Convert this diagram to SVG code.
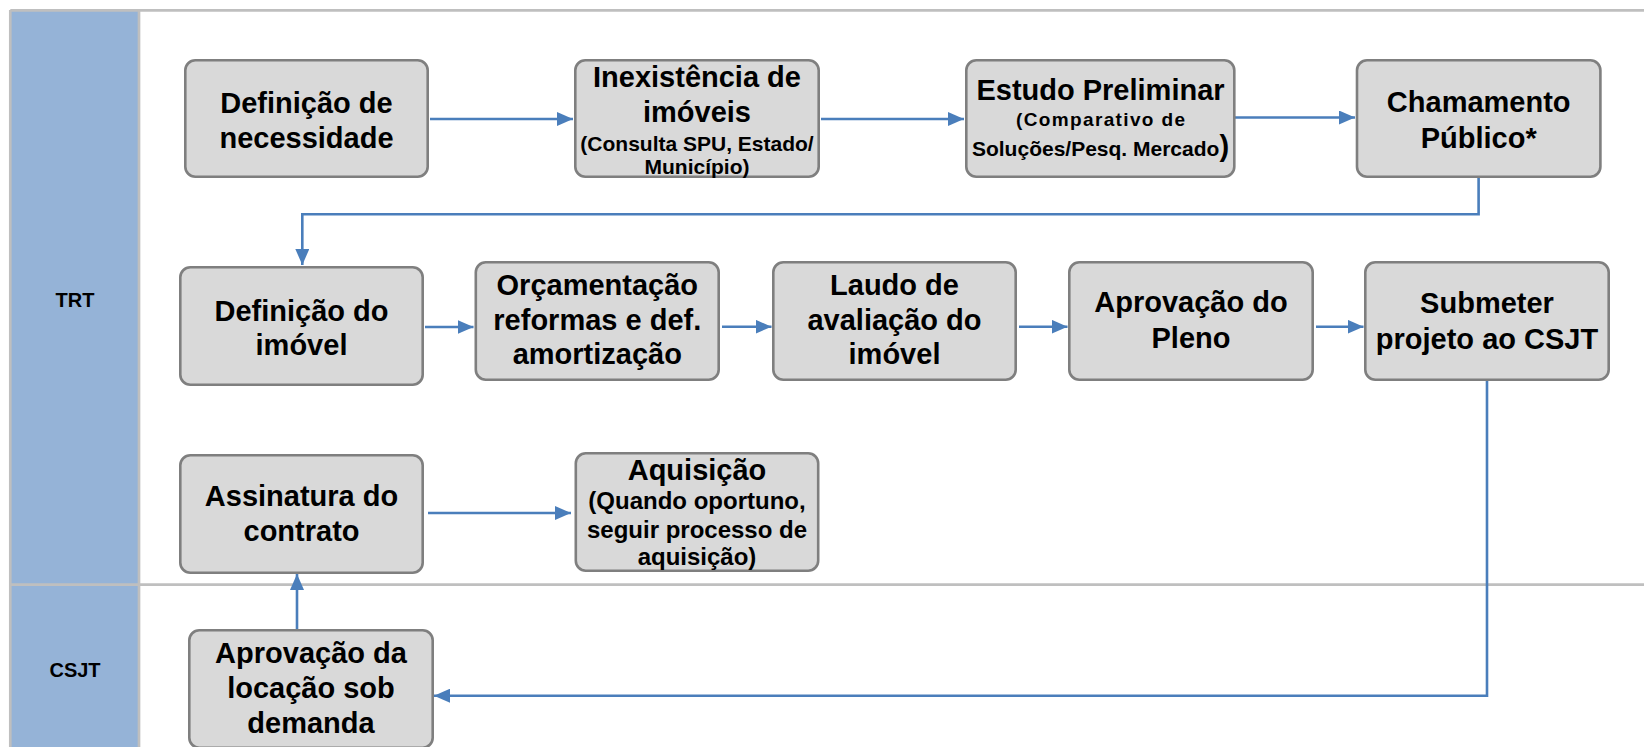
<svg xmlns="http://www.w3.org/2000/svg" width="1644" height="747" viewBox="0 0 1644 747">
<style>
.lane{fill:#95B3D7;}
.lline{stroke:#BFBFBF;stroke-width:2.7;fill:none;}
.box{fill:#D9D9D9;stroke:#7F7F7F;stroke-width:2.6;}
.t{font-family:"Liberation Sans",Arial,sans-serif;font-weight:bold;fill:#000;text-anchor:middle;}
.m{font-size:29px;}
.s{font-size:21px;}
.s2{font-size:24px;}
.lab{font-family:"Liberation Sans",Arial,sans-serif;font-weight:bold;font-size:20px;fill:#000;text-anchor:middle;}
.c{stroke:#4A7EBB;stroke-width:2.6;fill:none;}
</style>
<defs>
<marker id="ah" markerUnits="userSpaceOnUse" markerWidth="16" markerHeight="14" refX="16" refY="7" orient="auto">
<path d="M0,0 L16,7 L0,14 z" fill="#4A7EBB"/>
</marker>
</defs>
<rect width="1644" height="747" fill="#FFFFFF"/>
<g id="lanes">
<rect class="lane" x="10" y="10" width="129" height="740"/>
<line class="lline" x1="10.3" y1="10.3" x2="1644" y2="10.3"/>
<line class="lline" x1="10.3" y1="10" x2="10.3" y2="747"/>
<line class="lline" x1="139" y1="10" x2="139" y2="747"/>
<line class="lline" x1="10" y1="584.7" x2="1644" y2="584.7"/>
<text class="lab" x="75" y="307">TRT</text>
<text class="lab" x="75" y="677">CSJT</text>
</g>
<g id="connectors">
<line class="c" x1="430" y1="119" x2="573" y2="119" marker-end="url(#ah)"/>
<line class="c" x1="821" y1="119" x2="964" y2="119" marker-end="url(#ah)"/>
<line class="c" x1="1213" y1="117.5" x2="1355" y2="117.5" marker-end="url(#ah)"/>
<polyline class="c" points="1478.6,176 1478.6,214.3 302.3,214.3 302.3,265" marker-end="url(#ah)"/>
<line class="c" x1="425" y1="327" x2="473.5" y2="327" marker-end="url(#ah)"/>
<line class="c" x1="722" y1="326.7" x2="771.5" y2="326.7" marker-end="url(#ah)"/>
<line class="c" x1="1019" y1="326.7" x2="1067.5" y2="326.7" marker-end="url(#ah)"/>
<line class="c" x1="1316" y1="326.7" x2="1363.5" y2="326.7" marker-end="url(#ah)"/>
<polyline class="c" points="1487,381 1487,695.7 434,695.7" marker-end="url(#ah)"/>
<line class="c" x1="297" y1="629" x2="297" y2="574" marker-end="url(#ah)"/>
<line class="c" x1="428" y1="513" x2="571" y2="513" marker-end="url(#ah)"/>
</g>
<g id="n1">
<rect class="box" x="185.3" y="60.3" width="242.4" height="116.4" rx="10"/>
<text class="t m" x="306.5" y="113">Definição de</text>
<text class="t m" x="306.5" y="148">necessidade</text>
</g>
<g id="n2">
<rect class="box" x="575.3" y="60.3" width="243.4" height="116.4" rx="10"/>
<text class="t m" x="697" y="87">Inexistência de</text>
<text class="t m" x="697" y="121.5">imóveis</text>
<text class="t s" x="697" y="150.5">(Consulta SPU, Estado/</text>
<text class="t s" x="697" y="173.5">Município)</text>
</g>
<g id="n3">
<rect class="box" x="966.3" y="60.3" width="268" height="116.4" rx="10"/>
<text class="t m" x="1100.5" y="100">Estudo Preliminar</text>
<text class="t" x="1100.5" y="126" font-size="19" textLength="169" lengthAdjust="spacing">(Comparativo de</text>
<text class="t s" x="1100.5" y="156">Soluções/Pesq. Mercado<tspan font-size="29">)</tspan></text>
</g>
<g id="n4">
<rect class="box" x="1357" y="60.3" width="243.4" height="116.4" rx="10"/>
<text class="t m" x="1478.7" y="111.5">Chamamento</text>
<text class="t m" x="1478.7" y="147.5">Público*</text>
</g>
<g id="n5">
<rect class="box" x="180.3" y="267.3" width="242.4" height="117.4" rx="10"/>
<text class="t m" x="301.5" y="320.5">Definição do</text>
<text class="t m" x="301.5" y="355">imóvel</text>
</g>
<g id="n6">
<rect class="box" x="475.8" y="262.3" width="242.9" height="117.4" rx="10"/>
<text class="t m" x="597.3" y="295">Orçamentação</text>
<text class="t m" x="597.3" y="329.5">reformas e def.</text>
<text class="t m" x="597.3" y="364">amortização</text>
</g>
<g id="n7">
<rect class="box" x="773.3" y="262.3" width="242.4" height="117.4" rx="10"/>
<text class="t m" x="894.5" y="295">Laudo de</text>
<text class="t m" x="894.5" y="329.5">avaliação do</text>
<text class="t m" x="894.5" y="364">imóvel</text>
</g>
<g id="n8">
<rect class="box" x="1069.3" y="262.3" width="243.4" height="117.4" rx="10"/>
<text class="t m" x="1191" y="312">Aprovação do</text>
<text class="t m" x="1191" y="348">Pleno</text>
</g>
<g id="n9">
<rect class="box" x="1365.3" y="262.3" width="243.4" height="117.4" rx="10"/>
<text class="t m" x="1487" y="313">Submeter</text>
<text class="t m" x="1487" y="349">projeto ao CSJT</text>
</g>
<g id="n10">
<rect class="box" x="180.3" y="455.3" width="242.4" height="117.4" rx="10"/>
<text class="t m" x="301.5" y="506">Assinatura do</text>
<text class="t m" x="301.5" y="541">contrato</text>
</g>
<g id="n11">
<rect class="box" x="575.8" y="453.3" width="242.4" height="117.4" rx="10"/>
<text class="t m" x="697" y="480">Aquisição</text>
<text class="t s2" x="697" y="509">(Quando oportuno,</text>
<text class="t s2" x="697" y="537.5">seguir processo de</text>
<text class="t s2" x="697" y="565">aquisição)</text>
</g>
<g id="n12">
<rect class="box" x="189.3" y="630.3" width="243.4" height="117.4" rx="10"/>
<text class="t m" x="311" y="663">Aprovação da</text>
<text class="t m" x="311" y="698">locação sob</text>
<text class="t m" x="311" y="733">demanda</text>
</g>
</svg>
